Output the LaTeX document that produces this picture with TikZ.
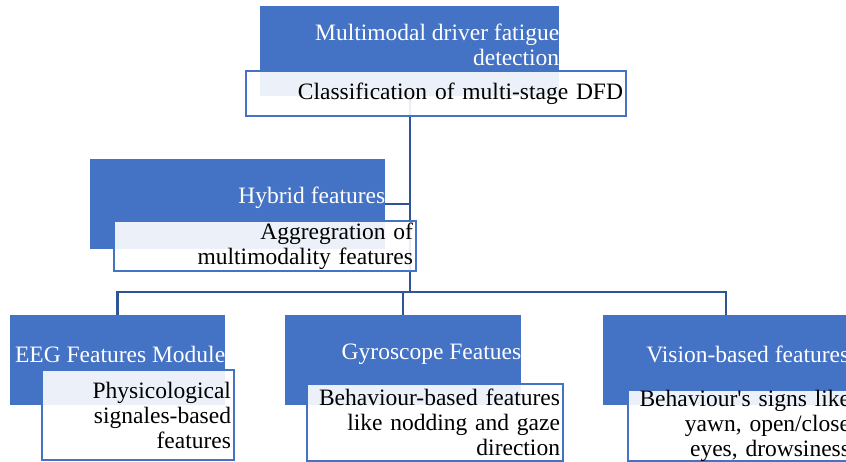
\documentclass[tikz,border=0pt]{standalone}
\usepackage{fontspec}
\setmainfont{Liberation Serif}
\definecolor{boxblue}{HTML}{4472C4}
\definecolor{linkblue}{HTML}{2F5597}

\begin{document}
\begin{tikzpicture}
            [x=1pt, y=-1pt, font=\fontsize{23.5}{25}\selectfont,
            head/.style={anchor=north west, fill=boxblue, inner sep=0pt},
            title/.style={anchor=east, inner sep=0pt, text=white, align=right, yshift=6pt},
            desc/.style={anchor=north west, draw=boxblue, line width=2pt, fill=white, fill opacity=0.9, text opacity=1, inner xsep=3pt, inner ysep=0pt, align=right},
            link/.style={linkblue, line width=2.5pt}]

            \useasboundingbox (0,0) rectangle (846,462);

            % junction of the trunk and the bus
            \coordinate (bus) at (410,292);

            % blue heads
            \node[head, minimum width=299pt, minimum height=90pt] (mdd) at (260,6) {};
            \node[head, minimum width=295pt, minimum height=90pt] (hyb) at (90,159) {};
            \node[head, minimum width=215pt, minimum height=90pt] (eeg) at (10,315) {};
            \node[head, minimum width=236pt, minimum height=90pt] (gyr) at (285,315) {};
            \node[head, minimum width=246pt, minimum height=90pt] (vis) at (603,315) {};

            % connectors
            \draw[link] (mdd.south -| bus) -- (bus);
            \draw[link] (hyb.east) -- (hyb.east -| bus);
            \draw[link] (eeg.north) -- (eeg.north |- bus) -- (vis.north |- bus) -- (vis.north);
            \draw[link] (gyr.north) -- (gyr.north |- bus);

            % titles
            \node[title] (mddT) at (mdd.east) {Multimodal driver fatigue\\detection};
            \node[title] (hybT) at (hyb.east) {Hybrid features};
            \node[title] (eegT) at (eeg.east) {EEG Features Module};
            \node[title] (gyrT) at (gyr.east) {Gyroscope Featues};
            \node[title] (visT) at (vis.east) {Vision-based features};

            % white description boxes
            \node[desc, text width=374pt, minimum height=45pt] (cls) at (245,70) {Classification of multi-stage DFD};
            \node[desc, text width=296pt, minimum height=50pt] (agg) at (113,220) {Aggregration of\\multimodality features};
            \node[desc, text width=186pt, minimum height=90pt] (phy) at (41,369) {Physicological\\signales-based\\features};
            \node[desc, text width=250pt, minimum height=77pt] (beh) at (306,383) {Behaviour-based features\\like nodding and gaze\\direction};
            \node[desc, text width=219pt, minimum height=71pt] (sig) at (627,389) {Behaviour\textquotesingle s signs like\\yawn, open/close\\eyes, drowsiness};

        \end{tikzpicture}
\end{document}
